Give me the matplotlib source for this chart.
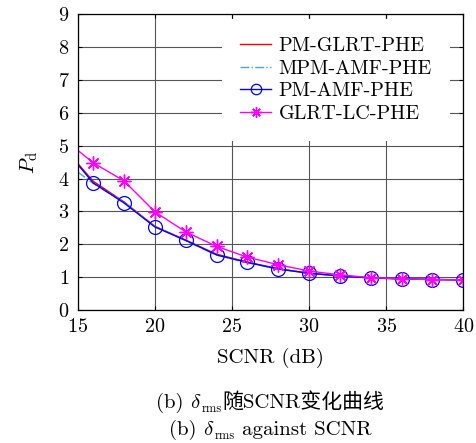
import matplotlib
matplotlib.use("Agg")
import matplotlib.pyplot as plt

plt.rcParams['font.family'] = ['cmr10', 'Noto Sans CJK SC']
plt.rcParams['mathtext.fontset'] = 'cm'
plt.rcParams['axes.formatter.use_mathtext'] = True
plt.rcParams['axes.unicode_minus'] = False

# SCNR (dB)
scnr = [15, 16, 18, 20, 22, 24, 26, 28, 30, 32, 34, 36, 38, 40]

pm_glrt = [4.46, 3.92, 3.29, 2.55, 2.13, 1.70, 1.46, 1.26, 1.12, 1.04, 0.98, 0.95, 0.93, 0.92]
mpm_amf = [4.20, 3.85, 3.28, 2.54, 2.11, 1.67, 1.44, 1.25, 1.12, 1.04, 0.98, 0.95, 0.93, 0.92]
pm_amf = [4.43, 3.87, 3.26, 2.53, 2.12, 1.68, 1.45, 1.25, 1.12, 1.04, 0.98, 0.95, 0.93, 0.92]
glrt_lc = [4.86, 4.48, 3.93, 2.99, 2.38, 1.94, 1.61, 1.38, 1.19, 1.07, 0.99, 0.95, 0.93, 0.92]

# caption pieces: (text, font size, baseline shift in points)
caption_cn = [('(b) ', 15, 0), (r'$\delta$', 15, 0), ('rms', 9, -3), ('随SCNR变化曲线', 15, 0)]
caption_en = [('(b) ', 15, 0), (r'$\delta$', 15, 0), ('rms', 9, -3), (' against SCNR', 15, 0)]

fig = plt.figure(figsize=(4.77, 4.43), dpi=100)
ax = fig.add_axes([0.163, 0.300, 0.808, 0.668])

marks = slice(1, None)
ax.plot(scnr, pm_glrt, '-', color='red', lw=1.0, label='PM-GLRT-PHE')
ax.plot(scnr, mpm_amf, '-.', color='#4aa8d0', lw=1.0, label='MPM-AMF-PHE')
ax.plot(scnr, pm_amf, '-', color='blue', lw=1.0, marker='o', markersize=10,
        markerfacecolor='none', markeredgewidth=0.9, markevery=marks, label='PM-AMF-PHE')
ax.plot(scnr, glrt_lc, '-', color='magenta', lw=1.0, marker=(8, 2, 0), markersize=10,
        markevery=marks, markeredgewidth=1.0, label='GLRT-LC-PHE')

ax.set_xlim(15, 40)
ax.set_ylim(0, 9)
ax.set_xticks([15, 20, 25, 30, 35, 40])
ax.set_yticks(range(0, 10))
ax.grid(True, color='#555555', lw=0.8)
ax.tick_params(direction='in', labelsize=14.5, top=True, right=True, length=3, pad=6)
for s in ax.spines.values():
    s.set_linewidth(0.9)

ax.set_xlabel('SCNR (dB)', fontsize=15, labelpad=8)
ax.set_ylabel(r'$P_{\rm d}$', fontsize=15, labelpad=13)

leg = ax.legend(loc='upper right', bbox_to_anchor=(0.966, 0.983), borderaxespad=0,
                frameon=True, fontsize=14.5, handlelength=1.5, markerscale=0.75,
                labelspacing=0.22, handletextpad=0.4, borderpad=0.9,
                fancybox=False, edgecolor='none', framealpha=1.0)
leg.get_frame().set_facecolor('white')


def centered_line(parts, y, cx=0.566):
    # draw pieces side by side on one baseline, then centre the whole line
    texts = []
    for p, size, dy in parts:
        t = fig.text(0, y + dy / 72 / fig.get_figheight(), p, fontsize=size, va='baseline')
        texts.append(t)
    r = fig.canvas.get_renderer()
    widths = [t.get_window_extent(r).width / fig.bbox.width for t in texts]
    x = cx - sum(widths) / 2
    for t, w in zip(texts, widths):
        t.set_x(x)
        x += w


centered_line(caption_cn, 0.079)
centered_line(caption_en, 0.018)

fig.savefig('out.png', dpi=100)
